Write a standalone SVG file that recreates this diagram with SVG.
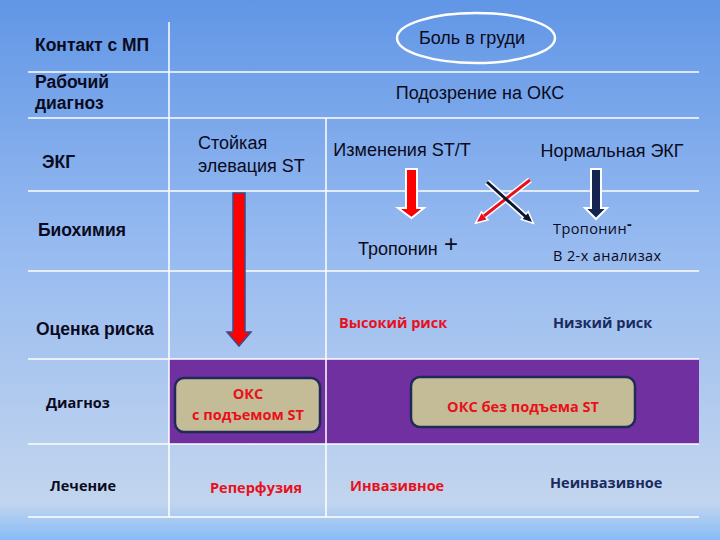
<svg xmlns="http://www.w3.org/2000/svg" width="720" height="540" viewBox="0 0 720 540">
<defs>
<linearGradient id="bg" x1="0" y1="0" x2="0" y2="1">
<stop offset="0" stop-color="#6196e6"/>
<stop offset="0.45" stop-color="#96baf0"/>
<stop offset="0.93" stop-color="#c2d5ee"/>
<stop offset="1" stop-color="#88bcf6"/>
</linearGradient>
<style>
.grid{stroke:#ffffff;stroke-width:1.5;fill:none}
.lbl{font-family:"Liberation Sans",Arial,sans-serif;font-weight:bold;font-size:17.5px;fill:#0a0a20}
.ar{font-family:"Liberation Sans",Arial,sans-serif;font-size:18px;fill:#0a0a20}
.cal{font-family:"Open Sans","Noto Sans",sans-serif;font-weight:bold;font-size:14.5px}
.thin{font-family:"Open Sans","Noto Sans",sans-serif;font-size:14.5px;fill:#0a0a20;letter-spacing:0.4px}
.red{fill:#e8101c}
.navy{fill:#1a2a5e}
.dark{fill:#0a0a20}
.box{fill:#c4bc96;stroke:#1e2a58;stroke-width:2.5}
</style>
</defs>
<rect width="720" height="540" fill="url(#bg)"/>
<rect x="169" y="359" width="530" height="85" fill="#7030a0"/>
<g id="grid">
<line class="grid" x1="169" y1="22" x2="169" y2="517"/>
<line class="grid" x1="326" y1="118" x2="326" y2="517"/>
<line class="grid" x1="28" y1="72" x2="699" y2="72"/>
<line class="grid" x1="28" y1="118" x2="699" y2="118"/>
<line class="grid" x1="28" y1="191" x2="699" y2="191"/>
<line class="grid" x1="28" y1="271" x2="699" y2="271"/>
<line class="grid" x1="28" y1="359" x2="699" y2="359"/>
<line class="grid" x1="28" y1="444" x2="699" y2="444"/>
<line class="grid" x1="28" y1="517" x2="699" y2="517"/>
</g>
<g id="row-labels">
<text class="lbl" x="35" y="51">Контакт с МП</text>
<text class="lbl" x="35" y="88">Рабочий</text>
<text class="lbl" x="35" y="109">диагноз</text>
<text class="lbl" x="42" y="168">ЭКГ</text>
<text class="lbl" x="38" y="236">Биохимия</text>
<text class="lbl" x="36" y="335">Оценка риска</text>
<text class="cal dark" x="46" y="408">Диагноз</text>
<text class="cal dark" x="50" y="491">Лечение</text>
</g>
<g id="pain">
<ellipse cx="476" cy="38" rx="79" ry="25" fill="none" stroke="#ffffff" stroke-width="2.5"/>
<text class="ar" x="472" y="44" text-anchor="middle">Боль в груди</text>
</g>
<g id="suspect">
<text class="ar" x="480" y="99" text-anchor="middle">Подозрение на ОКС</text>
</g>
<g id="ste">
<text class="ar" x="198" y="149">Стойкая</text>
<text class="ar" x="198" y="172">элевация ST</text>
</g>
<g id="stt">
<text class="ar" x="402" y="156" text-anchor="middle">Изменения ST/T</text>
</g>
<g id="normal">
<text class="ar" x="612" y="157" text-anchor="middle">Нормальная ЭКГ</text>
</g>
<g id="tropplus">
<text class="ar" x="358" y="255">Тропонин</text>
<text class="ar" x="444" y="252" style="font-size:24px">+</text>
</g>
<g id="tropminus">
<text class="thin" x="553" y="234">Тропонин<tspan dy="-5" font-weight="bold">-</tspan></text>
<text class="thin" x="553" y="261">В 2-х анализах</text>
</g>
<g id="highrisk"><text class="cal red" x="339" y="328">Высокий риск</text></g>
<g id="lowrisk"><text class="cal navy" x="553" y="328">Низкий риск</text></g>
<g id="stemi">
<rect class="box" x="175" y="378" width="145" height="54" rx="9"/>
<text class="cal red" x="248" y="399" text-anchor="middle">ОКС</text>
<text class="cal red" x="248" y="420" text-anchor="middle">с подъемом ST</text>
</g>
<g id="nstemi">
<rect class="box" x="411" y="377" width="224" height="50" rx="9"/>
<text class="cal red" x="523" y="412" text-anchor="middle">ОКС без подъема ST</text>
</g>
<g id="treat">
<text class="cal red" x="210" y="493">Реперфузия</text>
<text class="cal red" x="350" y="491">Инвазивное</text>
<text class="cal navy" x="550" y="488">Неинвазивное</text>
</g>
<g id="connectors">
<polygon points="233,193 245,193 245,332 251,332 239,346 227,332 233,332" fill="#ff0000" stroke="#3d4c8c" stroke-width="1.5"/>
<polygon points="406,169 417,169 417,208 424,208 411.5,218 398,208 406,208" fill="#ff0000" stroke="#ffffff" stroke-width="2"/>
<polygon points="591,169 601,169 601,208 607,208 596,219 585,208 591,208" fill="#13254f" stroke="#ffffff" stroke-width="2"/>
<line x1="487" y1="182" x2="526" y2="217" stroke="#ffffff" stroke-width="6"/>
<line x1="530" y1="180" x2="484" y2="216" stroke="#ffffff" stroke-width="6"/>
<polygon points="532,222 522.6,219 528,213" fill="#ffffff" stroke="#ffffff" stroke-width="3"/>
<polygon points="477,222 486.6,219.5 481.6,213.3" fill="#ffffff" stroke="#ffffff" stroke-width="3"/>
<line x1="530" y1="180" x2="484" y2="216" stroke="#e8101c" stroke-width="3"/>
<polygon points="477,222 486.6,219.5 481.6,213.3" fill="#e8101c"/>
<line x1="487" y1="182" x2="526" y2="217" stroke="#0d1830" stroke-width="3"/>
<polygon points="532,222 522.6,219 528,213" fill="#0d1830"/>
</g>
</svg>
